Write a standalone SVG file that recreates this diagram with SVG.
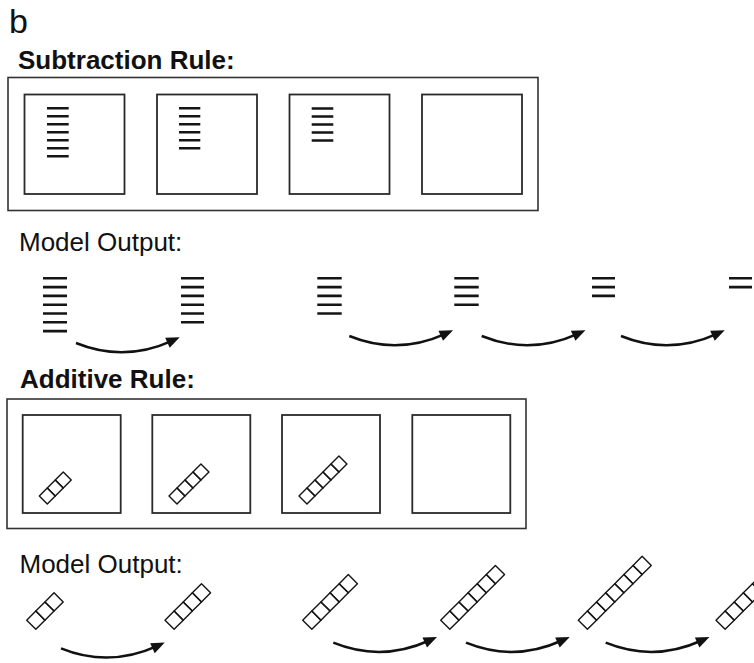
<svg xmlns="http://www.w3.org/2000/svg" width="754" height="663" viewBox="0 0 754 663">
<style>
.lbl{font-family:"Liberation Sans",Arial,sans-serif;fill:#111}
.bold{font-weight:bold}
.frame{fill:none;stroke:#333;stroke-width:1.6}
.box{fill:none;stroke:#2a2a2a;stroke-width:1.8}
.bar{stroke:#151515;stroke-width:2.6;fill:none}
.sq{fill:none;stroke:#151515;stroke-width:1.4;stroke-linejoin:round}
.conn{fill:none;stroke:#111;stroke-width:2.5}
</style>
<defs>
<marker id="ah" markerUnits="userSpaceOnUse" markerWidth="20" markerHeight="20" refX="0" refY="0" viewBox="-8 -8 20 16" orient="auto" overflow="visible">
<path d="M8.5,0 L-5,-5.5 L-5,5.5 Z" fill="#111"/>
</marker>
</defs>
<rect width="754" height="663" fill="#fff"/>

<text class="lbl" x="9" y="33" font-size="34">b</text>
<text class="lbl bold" x="18" y="68.5" font-size="26">Subtraction Rule:</text>

<g id="subtraction-panel">
<rect class="frame" x="8" y="77.5" width="530" height="133"/>
<g id="sub-box1">
<rect class="box" x="24.5" y="94.5" width="100" height="99.5"/>
<path class="bar" d="M47,108.3H68.7M47,116.3H68.7M47,124.3H68.7M47,132.3H68.7M47,140.3H68.7M47,148.3H68.7M47,156.3H68.7"/>
</g>
<g id="sub-box2">
<rect class="box" x="157" y="94.5" width="100" height="99.5"/>
<path class="bar" d="M179,108.3H200.3M179,116.3H200.3M179,124.3H200.3M179,132.3H200.3M179,140.3H200.3M179,148.3H200.3"/>
</g>
<g id="sub-box3">
<rect class="box" x="289.5" y="94.5" width="100" height="99.5"/>
<path class="bar" d="M311.7,108.5H333.3M311.7,116.5H333.3M311.7,124.5H333.3M311.7,132.5H333.3M311.7,140.5H333.3"/>
</g>
<g id="sub-box4">
<rect class="box" x="422" y="94.5" width="100" height="99.5"/>
</g>
</g>

<text class="lbl" x="19" y="250.5" font-size="26">Model Output:</text>

<g id="sub-out1"><path class="bar" d="M43,278.3H67M43,287.1H67M43,295.9H67M43,304.7H67M43,313.5H67M43,322.3H67M43,331.1H67"/></g>
<g id="sub-out2"><path class="bar" d="M181,278.3H204M181,287.1H204M181,295.9H204M181,304.7H204M181,313.5H204M181,322.3H204"/></g>
<g id="sub-out3"><path class="bar" d="M317.3,278.3H341.7M317.3,287.1H341.7M317.3,295.9H341.7M317.3,304.7H341.7M317.3,313.5H341.7"/></g>
<g id="sub-out4"><path class="bar" d="M454.3,278.3H478.7M454.3,287.1H478.7M454.3,295.9H478.7M454.3,304.7H478.7"/></g>
<g id="sub-out5"><path class="bar" d="M592,278.3H615M592,287.1H615M592,295.9H615"/></g>
<g id="sub-out6"><path class="bar" d="M729,278.3H752M729,287.1H752"/></g>

<text class="lbl bold" x="20" y="388.3" font-size="26">Additive Rule:</text>

<g id="additive-panel">
<rect class="frame" x="7" y="399" width="519" height="129.5"/>
<g id="add-box1">
<rect class="box" x="22.7" y="415" width="98" height="98"/>
<g transform="translate(39.3,496) rotate(-45)">
<rect class="sq" x="0" y="0" width="11.3" height="11.3"/><rect class="sq" x="11.3" y="0" width="11.3" height="11.3"/><rect class="sq" x="22.6" y="0" width="11.3" height="11.3"/>
</g>
</g>
<g id="add-box2">
<rect class="box" x="152.3" y="415" width="98" height="98"/>
<g transform="translate(169,496) rotate(-45)">
<rect class="sq" x="0" y="0" width="11.3" height="11.3"/><rect class="sq" x="11.3" y="0" width="11.3" height="11.3"/><rect class="sq" x="22.6" y="0" width="11.3" height="11.3"/><rect class="sq" x="33.9" y="0" width="11.3" height="11.3"/>
</g>
</g>
<g id="add-box3">
<rect class="box" x="282" y="415" width="98" height="98"/>
<g transform="translate(299,496) rotate(-45)">
<rect class="sq" x="0" y="0" width="11.3" height="11.3"/><rect class="sq" x="11.3" y="0" width="11.3" height="11.3"/><rect class="sq" x="22.6" y="0" width="11.3" height="11.3"/><rect class="sq" x="33.9" y="0" width="11.3" height="11.3"/><rect class="sq" x="45.2" y="0" width="11.3" height="11.3"/>
</g>
</g>
<g id="add-box4">
<rect class="box" x="412.3" y="415" width="98" height="98"/>
</g>
</g>

<text class="lbl" x="19.5" y="573.3" font-size="26">Model Output:</text>

<g id="add-out1" transform="translate(26.7,620.2) rotate(-45)">
<rect class="sq" x="0" y="0" width="12.9" height="12.9"/><rect class="sq" x="12.9" y="0" width="12.9" height="12.9"/><rect class="sq" x="25.8" y="0" width="12.9" height="12.9"/>
</g>
<g id="add-out2" transform="translate(165,620.2) rotate(-45)">
<rect class="sq" x="0" y="0" width="12.9" height="12.9"/><rect class="sq" x="12.9" y="0" width="12.9" height="12.9"/><rect class="sq" x="25.8" y="0" width="12.9" height="12.9"/><rect class="sq" x="38.7" y="0" width="12.9" height="12.9"/>
</g>
<g id="add-out3" transform="translate(302.7,620.2) rotate(-45)">
<rect class="sq" x="0" y="0" width="12.9" height="12.9"/><rect class="sq" x="12.9" y="0" width="12.9" height="12.9"/><rect class="sq" x="25.8" y="0" width="12.9" height="12.9"/><rect class="sq" x="38.7" y="0" width="12.9" height="12.9"/><rect class="sq" x="51.6" y="0" width="12.9" height="12.9"/>
</g>
<g id="add-out4" transform="translate(440.7,620.2) rotate(-45)">
<rect class="sq" x="0" y="0" width="12.9" height="12.9"/><rect class="sq" x="12.9" y="0" width="12.9" height="12.9"/><rect class="sq" x="25.8" y="0" width="12.9" height="12.9"/><rect class="sq" x="38.7" y="0" width="12.9" height="12.9"/><rect class="sq" x="51.6" y="0" width="12.9" height="12.9"/><rect class="sq" x="64.5" y="0" width="12.9" height="12.9"/>
</g>
<g id="add-out5" transform="translate(578.3,620.2) rotate(-45)">
<rect class="sq" x="0" y="0" width="12.9" height="12.9"/><rect class="sq" x="12.9" y="0" width="12.9" height="12.9"/><rect class="sq" x="25.8" y="0" width="12.9" height="12.9"/><rect class="sq" x="38.7" y="0" width="12.9" height="12.9"/><rect class="sq" x="51.6" y="0" width="12.9" height="12.9"/><rect class="sq" x="64.5" y="0" width="12.9" height="12.9"/><rect class="sq" x="77.4" y="0" width="12.9" height="12.9"/>
</g>
<g id="add-out6" transform="translate(716,620.2) rotate(-45)">
<rect class="sq" x="0" y="0" width="12.9" height="12.9"/><rect class="sq" x="12.9" y="0" width="12.9" height="12.9"/><rect class="sq" x="25.8" y="0" width="12.9" height="12.9"/><rect class="sq" x="38.7" y="0" width="12.9" height="12.9"/><rect class="sq" x="51.6" y="0" width="12.9" height="12.9"/><rect class="sq" x="64.5" y="0" width="12.9" height="12.9"/><rect class="sq" x="77.4" y="0" width="12.9" height="12.9"/><rect class="sq" x="90.3" y="0" width="12.9" height="12.9"/>
</g>

<g id="connectors">
<path class="conn" marker-end="url(#ah)" d="M76,343 q48,19.5 96,-2.2"/>
<path class="conn" marker-end="url(#ah)" d="M349.3,336 q48,19.5 96,-2.2"/>
<path class="conn" marker-end="url(#ah)" d="M481.7,336 q48,19.5 96,-2.2"/>
<path class="conn" marker-end="url(#ah)" d="M621,336 q48,19.5 96,-2.2"/>
<path class="conn" marker-end="url(#ah)" d="M61,648.3 q48,19.5 96,-2.2"/>
<path class="conn" marker-end="url(#ah)" d="M333.3,642.7 q48,19.5 96,-2.2"/>
<path class="conn" marker-end="url(#ah)" d="M466,642.7 q48,19.5 96,-2.2"/>
<path class="conn" marker-end="url(#ah)" d="M605.7,642.7 q48,19.5 96,-2.2"/>
</g>
</svg>
